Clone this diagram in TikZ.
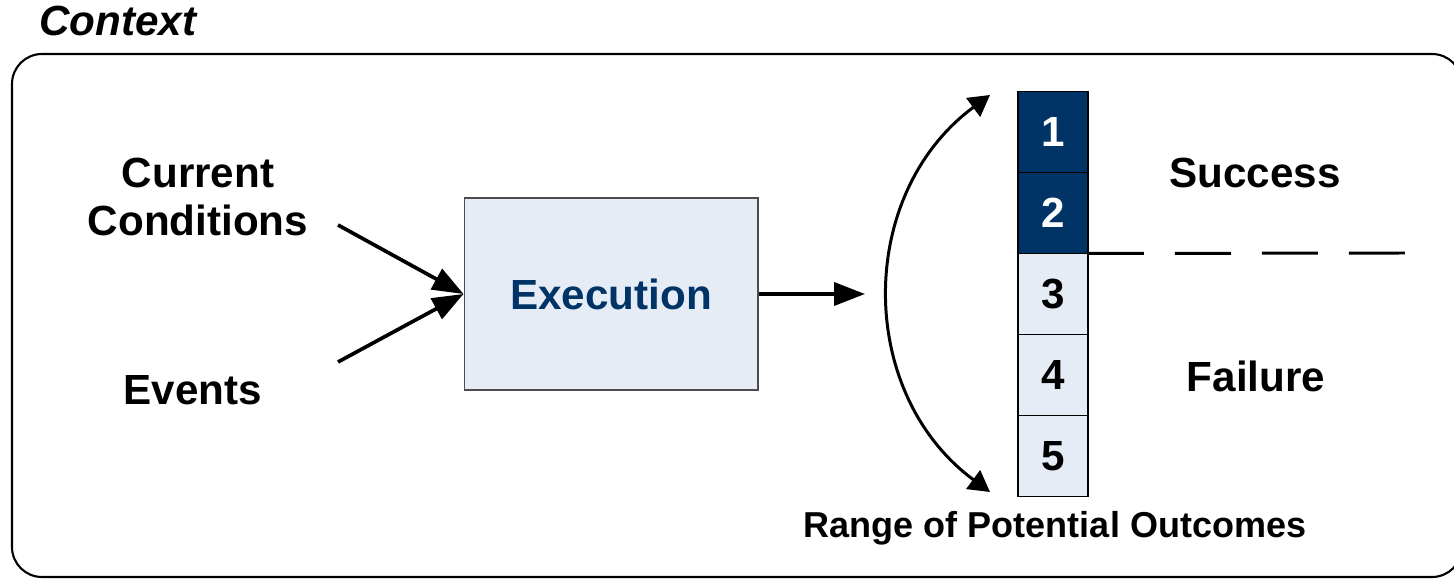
\documentclass[tikz,border=0pt]{standalone}
\usepackage{fontspec}
\setmainfont{Liberation Sans}
\usetikzlibrary{arrows.meta,positioning}
\definecolor{navy}{RGB}{0,51,102}
\definecolor{paleblue}{RGB}{230,236,246}

\begin{document}
\begin{tikzpicture}[x=0.02cm,y=-0.02cm]

\tikzstyle{label}=[font=\fontsize{24}{27.3}\selectfont\bfseries,align=center,inner sep=0pt]
\tikzstyle{flow}=[line width=2.1pt,-{Triangle[length=0.62cm,width=0.46cm]}]
\tikzstyle{cell}=[draw=black,line width=0.6pt,outer sep=0pt,minimum width=1.4cm,minimum height=1.62cm,font=\fontsize{24}{28}\selectfont\bfseries]

\useasboundingbox (0,0) rectangle (1454,580);

% CONTEXT FRAME
\draw [line width=1.2pt,rounded corners=0.6cm] (12,54) rectangle (1462,577);
\node [anchor=base west,font=\fontsize{24}{28}\selectfont\bfseries\itshape,inner sep=0pt] (context) at (39,36) {Context};

% INPUTS
\node [label] (cond) at (198,197) {Current\\Conditions};
\node [label] (events) at (193,390) {Events};
\coordinate (cin) at (338,225);
\coordinate (ein) at (338,362);

% EXECUTION
\node [draw=black!70,line width=0.6pt,fill=paleblue,minimum width=5.88cm,minimum height=3.84cm,font=\fontsize{24}{28}\selectfont\bfseries,text=navy] (exec) at (611,294) {Execution};
\draw [flow] (cin) -- (exec.west);
\draw [flow] (ein) -- (exec.west);
\coordinate (out) at (865,294);
\draw [flow] (exec.east) -- (out);

% OUTCOMES
\node [cell,fill=navy,text=white] (c1) at (1053,132) {1};
\node [cell,fill=navy,text=white,below=0pt of c1] (c2) {2};
\node [cell,fill=paleblue,below=0pt of c2] (c3) {3};
\node [cell,fill=paleblue,below=0pt of c3] (c4) {4};
\node [cell,fill=paleblue,below=0pt of c4] (c5) {5};
\node [label,font=\fontsize{20.5}{24}\selectfont\bfseries] (range) at (1055,528) {Range of Potential Outcomes};

% SPREAD
\coordinate (top) at (990,95);
\coordinate (bot) at (990,492);
\draw [line width=1.7pt,{Triangle[length=0.42cm,width=0.46cm]}-{Triangle[length=0.42cm,width=0.46cm]}] (bot) .. controls (856,393) and (856,194) .. (top);

% THRESHOLD
\coordinate (dend) at (1406,253);
\draw [line width=1.7pt,dash pattern=on 1.12cm off 0.62cm] (c2.south east) -- (dend);
\node [label] (success) at (1255,173) {Success};
\node [label] (failure) at (1256,376) {Failure};

\end{tikzpicture}
\end{document}
